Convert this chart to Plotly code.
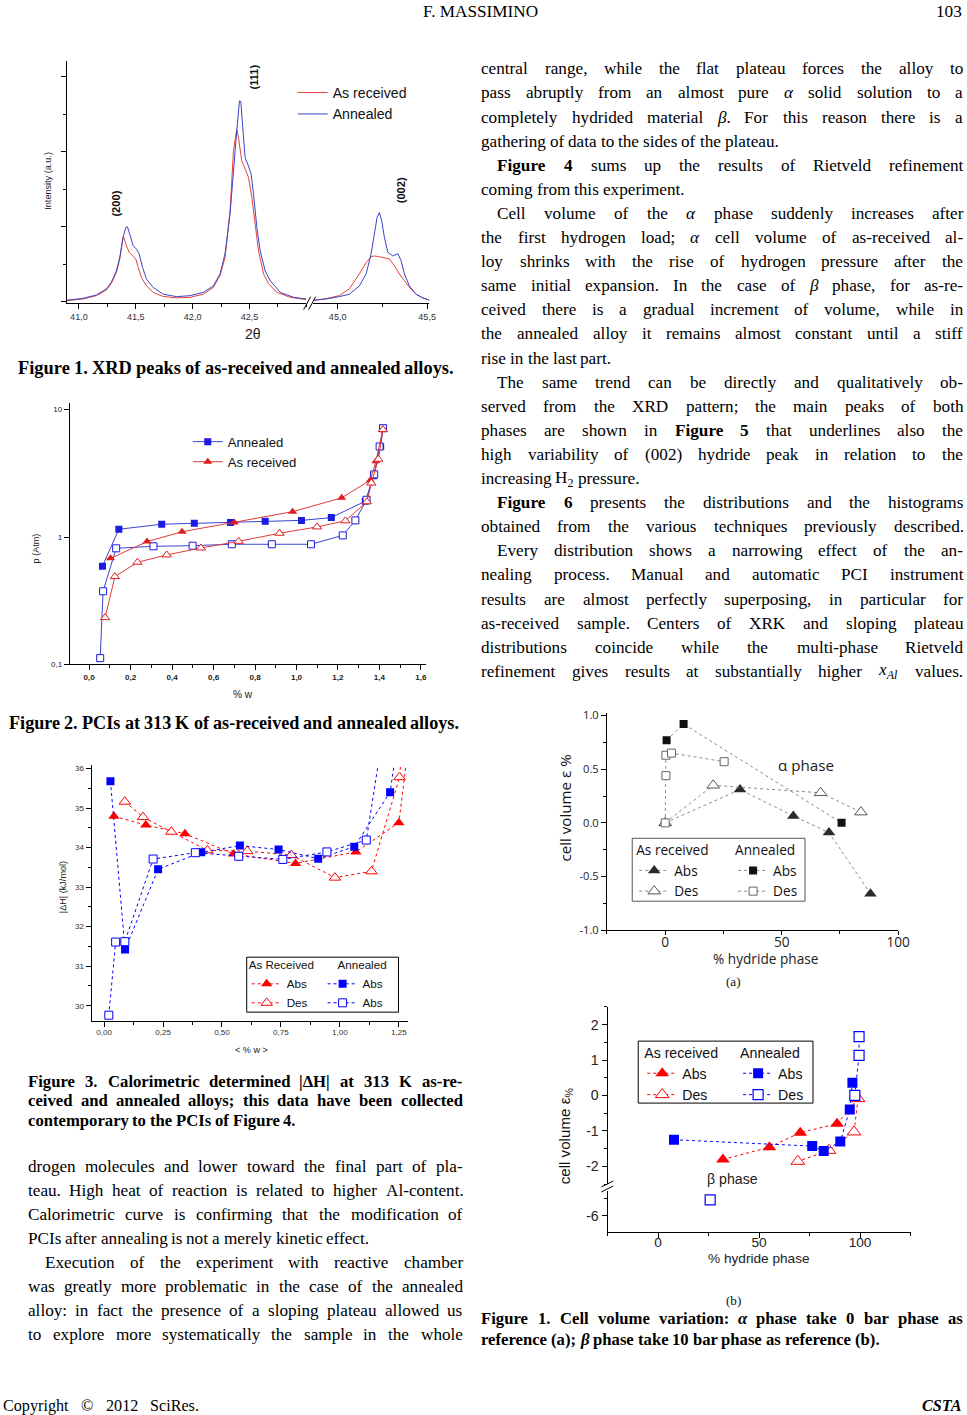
import re
import plotly.graph_objects as go

# Reference page geometry (pixels of the 967x1415 page)
W, H = 967, 1415
# The photographed window maps the page slightly compressed; lay the page out so the photo lands on target.
SX, SY, OY = 0.9890, 0.9916, 5.1
WF, HF = 982, 1422
FS = 1.0 / SX


def px(x): return (x / SX) / WF
def py(y): return 1 - ((y - OY) / SY) / HF


# ------------------------------------------------------------------ DATA
# Figure 1 : XRD peaks (2theta, intensity a.u.)
xrd_left_tt_ann = [40.894, 41.035, 41.153, 41.241, 41.285, 41.329, 41.359, 41.388, 41.412, 41.426, 41.447,
                   41.476, 41.506, 41.529, 41.559, 41.594, 41.653, 41.741, 41.859, 41.976, 42.094, 42.182,
                   42.241, 42.285, 42.329, 42.359, 42.388, 42.412, 42.424, 42.441, 42.462, 42.491, 42.515,
                   42.535, 42.565, 42.594, 42.638, 42.682, 42.771, 42.888, 43.0]
xrd_left_int_ann = [0.02, 0.044, 0.09, 0.17, 0.26, 0.41, 0.59, 0.86, 0.99, 1.0, 0.90,
                    0.75, 0.70, 0.64, 0.46, 0.30, 0.19, 0.10, 0.067, 0.08, 0.124, 0.21,
                    0.37, 0.64, 1.17, 1.79, 2.28, 2.68, 2.67, 2.32, 1.92, 1.81, 1.70,
                    1.44, 0.99, 0.68, 0.41, 0.28, 0.124, 0.058, 0.036]
xrd_left_tt_rec = [40.894, 41.035, 41.153, 41.241, 41.285, 41.329, 41.359, 41.382, 41.388, 41.394, 41.412,
                   41.441, 41.476, 41.5, 41.521, 41.55, 41.594, 41.653, 41.741, 41.859, 41.976, 42.094,
                   42.182, 42.241, 42.285, 42.329, 42.359, 42.382, 42.388, 42.403, 42.432, 42.462, 42.491,
                   42.521, 42.55, 42.579, 42.624, 42.668, 42.741, 42.859, 43.0]
xrd_left_int_rec = [0.013, 0.036, 0.08, 0.156, 0.244, 0.39, 0.57, 0.81, 0.86, 0.86, 0.77,
                    0.66, 0.61, 0.57, 0.46, 0.32, 0.21, 0.124, 0.07, 0.05, 0.058, 0.10,
                    0.19, 0.35, 0.59, 1.21, 2.01, 2.28, 2.30, 2.19, 1.88, 1.77, 1.66,
                    1.39, 0.99, 0.68, 0.37, 0.24, 0.124, 0.058, 0.027]
xrd_right_tt_ann = [44.869, 44.935, 45.009, 45.065, 45.121, 45.159, 45.187, 45.205, 45.22, 45.233, 45.246,
                    45.261, 45.28, 45.308, 45.336, 45.354, 45.373, 45.401, 45.438, 45.476, 45.513]
xrd_right_int_ann = [0.02, 0.036, 0.067, 0.10, 0.21, 0.37, 0.64, 0.90, 1.12, 1.19, 1.08,
                     0.86, 0.66, 0.61, 0.64, 0.55, 0.37, 0.21, 0.10, 0.05, 0.02]
xrd_right_tt_rec = [44.869, 44.935, 45.009, 45.065, 45.121, 45.159, 45.187, 45.205, 45.233, 45.261,
                    45.289, 45.317, 45.345, 45.373, 45.401, 45.438, 45.476, 45.513]
xrd_right_int_rec = [0.02, 0.04, 0.08, 0.17, 0.37, 0.52, 0.60, 0.61, 0.60, 0.59,
                     0.57, 0.48, 0.37, 0.28, 0.19, 0.10, 0.05, 0.02]
xrd_left_ticks = [41.0, 41.5, 42.0, 42.5]
xrd_left_ticktext = ["41,0", "41,5", "42,0", "42,5"]
xrd_right_ticks = [45.0, 45.5]
xrd_right_ticktext = ["45,0", "45,5"]

# Figure 2 : PCI (wt %, p Atm)
pci_ann_abs_w = [0.064, 0.143, 0.350, 0.507, 0.682, 0.849, 1.024, 1.168, 1.332, 1.372, 1.406, 1.417]
pci_ann_abs_p = [0.59, 1.15, 1.26, 1.28, 1.30, 1.33, 1.35, 1.42, 1.91, 3.02, 5.13, 7.14]
pci_ann_des_w = [0.053, 0.067, 0.130, 0.310, 0.499, 0.688, 0.881, 1.070, 1.223, 1.284, 1.338, 1.375, 1.401, 1.417]
pci_ann_des_p = [0.112, 0.375, 0.815, 0.845, 0.855, 0.877, 0.877, 0.877, 1.03, 1.35, 1.96, 3.10, 5.13, 7.14]
pci_rec_abs_w = [0.103, 0.279, 0.448, 0.700, 0.981, 1.218, 1.356, 1.383, 1.417]
pci_rec_abs_p = [0.68, 0.92, 1.10, 1.30, 1.58, 2.03, 2.79, 3.94, 6.97]
pci_rec_des_w = [0.077, 0.124, 0.233, 0.374, 0.539, 0.721, 0.918, 1.099, 1.236, 1.340, 1.361, 1.395, 1.417]
pci_rec_des_p = [0.233, 0.489, 0.634, 0.723, 0.820, 0.925, 1.07, 1.20, 1.34, 1.89, 2.65, 4.08, 6.97]
pci_xticks = [0.0, 0.2, 0.4, 0.6, 0.8, 1.0, 1.2, 1.4, 1.6]
pci_xticktext = ["0,0", "0,2", "0,4", "0,6", "0,8", "1,0", "1,2", "1,4", "1,6"]
pci_yticks = [0.1, 1, 10]
pci_yticktext = ["0,1", "1", "10"]

# Figure 3 : calorimetric |dH| (kJ/mol) vs <% w>
cal_ann_abs_w = [0.027, 0.089, 0.229, 0.412, 0.576, 0.740, 0.908, 1.061, 1.213, 1.252]
cal_ann_abs_h = [35.68, 31.42, 33.45, 33.88, 34.05, 33.95, 33.72, 34.02, 35.40, 37.0]
cal_ann_des_w = [0.020, 0.049, 0.088, 0.208, 0.387, 0.571, 0.758, 0.945, 1.112, 1.186]
cal_ann_des_h = [29.76, 31.61, 31.62, 33.71, 33.87, 33.78, 33.70, 33.89, 34.19, 37.0]
cal_rec_abs_w = [0.042, 0.177, 0.343, 0.549, 0.812, 1.068, 1.25, 1.31]
cal_rec_abs_h = [34.79, 34.57, 34.35, 33.84, 33.60, 33.89, 34.63, 37.5]
cal_rec_des_w = [0.088, 0.165, 0.285, 0.438, 0.607, 0.794, 0.979, 1.134, 1.253, 1.27]
cal_rec_des_h = [35.16, 34.77, 34.40, 33.93, 33.91, 33.81, 33.24, 33.40, 35.78, 37.0]
cal_xticks = [0.0, 0.25, 0.5, 0.75, 1.0, 1.25]
cal_xticktext = ["0,00", "0,25", "0,50", "0,75", "1,00", "1,25"]
cal_yticks = [30, 31, 32, 33, 34, 35, 36]

# Figure (a) : alpha phase cell volume (%) vs % hydride phase
alpha_rec_abs_x = [0, 32.1, 55.0, 70.3, 88.1]
alpha_rec_abs_y = [0.0, 0.31, 0.064, -0.09, -0.66]
alpha_rec_des_x = [0, 20.6, 66.7, 84.0]
alpha_rec_des_y = [0.0, 0.35, 0.28, 0.10]
alpha_ann_abs_x = [0.6, 7.9, 75.7]
alpha_ann_abs_y = [0.77, 0.92, 0.0]
alpha_ann_des_x = [0.0, 0.3, 0.3, 2.7, 25.3]
alpha_ann_des_y = [0.0, 0.44, 0.63, 0.65, 0.57]
alpha_yticks = [-1.0, -0.5, 0.0, 0.5, 1.0]
alpha_yticktext = ["-1.0", "-0.5", "0.0", "0.5", "1.0"]
hyd_xticks = [0, 50, 100]

# Figure (b) : beta phase cell volume (%) vs % hydride phase
beta_rec_abs_x = [32.1, 55.1, 70.4, 88.6, 99.0]
beta_rec_abs_y = [-1.81, -1.46, -1.05, -0.80, -0.09]
beta_rec_des_x = [99.0, 97.0, 84.6, 69.2]
beta_rec_des_y = [-0.09, -1.03, -1.55, -1.86]
beta_ann_abs_x = [7.9, 76.3, 82.0, 90.2, 94.9, 96.2]
beta_ann_abs_y = [-1.25, -1.43, -1.57, -1.30, -0.40, 0.36]
beta_ann_des_x = [97.4, 99.5, 99.5, 25.8]
beta_ann_des_y = [0.0, 1.13, 1.66, -5.55]
beta_upper_ticks = [-2, -1, 0, 1, 2]
beta_upper_ticktext = ["-2", "-1", "0", "1", "2"]
beta_lower_ticks = [-6]
beta_lower_ticktext = ["-6"]

# Page text
header_title = "F. MASSIMINO"
header_page = "103"
cap_fig1 = "Figure 1. XRD peaks of as-received and annealed alloys."
cap_fig2 = "Figure 2. PCIs at 313 K of as-received and annealed alloys."
cap_fig3 = [("Figure 3. Calorimetric determined |ΔH| at 313 K as-re-", True),
            ("ceived and annealed alloys; this data have been collected", True),
            ("contemporary to the PCIs of Figure 4.", False)]
cap_cell = [("Figure 1. Cell volume variation: <i>α</i> phase take 0 bar phase as", True),
            ("reference (a); <i>β</i> phase take 10 bar phase as reference (b).", False)]
left_body = [("drogen molecules and lower toward the final part of pla-", True, False),
             ("teau. High heat of reaction is related to higher Al-content.", True, False),
             ("Calorimetric curve is confirming that the modification of", True, False),
             ("PCIs after annealing is not a merely kinetic effect.", False, False),
             ("Execution of the experiment with reactive chamber", True, True),
             ("was greatly more problematic in the case of the annealed", True, False),
             ("alloy: in fact the presence of a sloping plateau allowed us", True, False),
             ("to explore more systematically the sample in the whole", True, False)]
right_body = [("central range, while the flat plateau forces the alloy to", True, False),
              ("pass abruptly from an almost pure <i>α</i> solid solution to a", True, False),
              ("completely hydrided material <i>β</i>. For this reason there is a", True, False),
              ("gathering of data to the sides of the plateau.", False, False),
              ("<b>Figure</b> <b>4</b> sums up the results of Rietveld refinement", True, True),
              ("coming from this experiment.", False, False),
              ("Cell volume of the <i>α</i> phase suddenly increases after", True, True),
              ("the first hydrogen load; <i>α</i> cell volume of as-received al-", True, False),
              ("loy shrinks with the rise of hydrogen pressure after the", True, False),
              ("same initial expansion. In the case of <i>β</i> phase, for as-re-", True, False),
              ("ceived there is a gradual increment of volume, while in", True, False),
              ("the annealed alloy it remains almost constant until a stiff", True, False),
              ("rise in the last part.", False, False),
              ("The same trend can be directly and qualitatively ob-", True, True),
              ("served from the XRD pattern; the main peaks of both", True, False),
              ("phases are shown in <b>Figure</b> <b>5</b> that underlines also the", True, False),
              ("high variability of (002) hydride peak in relation to the", True, False),
              ("increasing H<sub>2</sub> pressure.", False, False),
              ("<b>Figure</b> <b>6</b> presents the distributions and the histograms", True, True),
              ("obtained from the various techniques previously described.", True, False),
              ("Every distribution shows a narrowing effect of the an-", True, True),
              ("nealing process. Manual and automatic PCI instrument", True, False),
              ("results are almost perfectly superposing, in particular for", True, False),
              ("as-received sample. Centers of XRK and sloping plateau", True, False),
              ("distributions coincide while the multi-phase Rietveld", True, False),
              ("refinement gives results at substantially higher <i>x</i><sub><i>Al</i></sub> values.", True, False)]
footer_left = "Copyright © 2012 SciRes."
footer_right = "CSTA"

# ------------------------------------------------------------------ TEXT METRICS (Times)
TR = dict(zip("abcdefghijklmnopqrstuvwxyz",
              [444, 500, 444, 500, 444, 333, 500, 500, 278, 278, 500, 278, 778, 500, 500, 500, 500, 333, 389, 278, 500, 500, 722, 500, 500, 444]))
TR.update(zip("ABCDEFGHIJKLMNOPQRSTUVWXYZ",
              [722, 667, 667, 722, 611, 556, 722, 722, 333, 389, 722, 611, 889, 722, 722, 556, 722, 667, 556, 611, 722, 722, 944, 722, 722, 611]))
TR.update({c: 500 for c in "0123456789"})
TR.update({' ': 250, ',': 250, '.': 250, '-': 333, ':': 278, ';': 278, '(': 333, ')': 333, '|': 200,
           'α': 540, 'β': 500, 'Δ': 612, '©': 760, '%': 833})
TB = dict(zip("abcdefghijklmnopqrstuvwxyz",
              [500, 556, 444, 556, 444, 333, 500, 556, 278, 333, 556, 278, 833, 556, 500, 556, 556, 444, 389, 333, 556, 500, 722, 500, 500, 444]))
TB.update(zip("ABCDEFGHIJKLMNOPQRSTUVWXYZ",
              [722, 667, 722, 722, 667, 611, 778, 778, 389, 500, 778, 667, 944, 722, 778, 611, 778, 722, 556, 667, 722, 722, 1000, 722, 722, 667]))
TB.update({c: 500 for c in "0123456789"})
TB.update({' ': 250, ',': 250, '.': 250, '-': 333, ':': 333, ';': 333, '(': 333, ')': 333, '|': 220,
           'α': 540, 'β': 540, 'Δ': 612})


def tok_width(tok, bold_all=False):
    tbl = TB if (bold_all or '<b>' in tok) else TR
    w = 0.0
    for part in re.split(r'(<sub>.*?</sub>)', tok):
        scale = 0.7 if part.startswith('<sub>') else 1.0
        for ch in re.sub(r'<[^>]+>', '', part):
            w += tbl.get(ch, 500) * scale
    return w / 1000.0


annotations = []


def ann(text, x, y, size, family="Liberation Serif", xanchor="left", yanchor="middle",
        color="black", angle=0):
    annotations.append(dict(text=text, x=px(x), y=py(y), xref="paper", yref="paper",
                            xanchor=xanchor, yanchor=yanchor, showarrow=False, borderpad=0,
                            textangle=angle, font=dict(size=size * FS, family=family, color=color)))


def text_line(text, x0, x1, y, size, bold=False, justify=True, indent=0.0):
    words = text.split(' ')
    widths = [tok_width(w, bold) * size for w in words]
    start = x0 + indent
    if justify and len(words) > 1:
        gap = (x1 - start - sum(widths)) / (len(words) - 1)
    else:
        gap = 0.25 * size
    x = start
    for w, wd in zip(words, widths):
        ann("<b>%s</b>" % w if bold else w, x, y, size)
        x += wd + gap


def F(size, family, color="#222"):
    return dict(size=size * FS, family=family, color=color)


# ------------------------------------------------------------------ FIGURE
fig = go.Figure()
SANS = "Liberation Sans"
HUM = "Open Sans"

# ---- Figure 1
RED1, BLUE1 = "#e5423b", "#3b45c6"
fig.add_trace(go.Scatter(x=xrd_left_tt_rec, y=xrd_left_int_rec, mode="lines", name="As received",
                         line=dict(color=RED1, width=1), xaxis="x", yaxis="y", legend="legend", legendrank=1))
fig.add_trace(go.Scatter(x=xrd_left_tt_ann, y=xrd_left_int_ann, mode="lines", name="Annealed",
                         line=dict(color=BLUE1, width=1), xaxis="x", yaxis="y", legend="legend", legendrank=2))
fig.add_trace(go.Scatter(x=xrd_right_tt_rec, y=xrd_right_int_rec, mode="lines", showlegend=False,
                         line=dict(color=RED1, width=1), xaxis="x2", yaxis="y"))
fig.add_trace(go.Scatter(x=xrd_right_tt_ann, y=xrd_right_int_ann, mode="lines", showlegend=False,
                         line=dict(color=BLUE1, width=1), xaxis="x2", yaxis="y"))

# ---- Figure 2
B2, R2 = "#1a1ae0", "#e01c1c"
fig.add_trace(go.Scatter(x=pci_ann_abs_w, y=pci_ann_abs_p, mode="lines+markers", name="Annealed",
                         line=dict(color="#3a44d0", width=1),
                         marker=dict(symbol="square", size=7, color=B2),
                         xaxis="x3", yaxis="y3", legend="legend2", legendrank=1))
fig.add_trace(go.Scatter(x=pci_ann_des_w, y=pci_ann_des_p, mode="lines+markers", showlegend=False,
                         line=dict(color="#3a44d0", width=1),
                         marker=dict(symbol="square", size=7, color="white", line=dict(color=B2, width=1)),
                         xaxis="x3", yaxis="y3"))
fig.add_trace(go.Scatter(x=pci_rec_abs_w, y=pci_rec_abs_p, mode="lines+markers", name="As received",
                         line=dict(color="#e03a3a", width=1),
                         marker=dict(symbol="triangle-up", size=8, color=R2),
                         xaxis="x3", yaxis="y3", legend="legend2", legendrank=2))
fig.add_trace(go.Scatter(x=pci_rec_des_w, y=pci_rec_des_p, mode="lines+markers", showlegend=False,
                         line=dict(color="#e03a3a", width=1),
                         marker=dict(symbol="triangle-up", size=8, color="white", line=dict(color=R2, width=1)),
                         xaxis="x3", yaxis="y3"))

# ---- Figure 3
B3, R3 = "#0000ff", "#ff0000"
fig.add_trace(go.Scatter(x=cal_rec_abs_w, y=cal_rec_abs_h, mode="lines+markers", name="Abs",
                         line=dict(color=R3, width=1, dash="dot"),
                         marker=dict(symbol="triangle-up", size=10, color=R3),
                         xaxis="x4", yaxis="y4", legend="legend3", legendrank=1))
fig.add_trace(go.Scatter(x=cal_rec_des_w, y=cal_rec_des_h, mode="lines+markers", name="Des",
                         line=dict(color=R3, width=1, dash="dot"),
                         marker=dict(symbol="triangle-up", size=10, color="white", line=dict(color=R3, width=1)),
                         xaxis="x4", yaxis="y4", legend="legend3", legendrank=2))
fig.add_trace(go.Scatter(x=cal_ann_abs_w, y=cal_ann_abs_h, mode="lines+markers", name="Abs",
                         line=dict(color=B3, width=1, dash="dot"),
                         marker=dict(symbol="square", size=8, color=B3),
                         xaxis="x4", yaxis="y4", legend="legend4", legendrank=1))
fig.add_trace(go.Scatter(x=cal_ann_des_w, y=cal_ann_des_h, mode="lines+markers", name="Abs",
                         line=dict(color=B3, width=1, dash="dot"),
                         marker=dict(symbol="square", size=8, color="white", line=dict(color=B3, width=1)),
                         xaxis="x4", yaxis="y4", legend="legend4", legendrank=2))

# ---- Figure (a)
GL = "#8c8c8c"
fig.add_trace(go.Scatter(x=alpha_rec_abs_x, y=alpha_rec_abs_y, mode="lines+markers", name="Abs",
                         line=dict(color=GL, width=1, dash="dot"),
                         marker=dict(symbol="triangle-up", size=11, color="#2b2b2b"),
                         xaxis="x5", yaxis="y5", legend="legend5", legendrank=1))
fig.add_trace(go.Scatter(x=alpha_rec_des_x, y=alpha_rec_des_y, mode="lines+markers", name="Des",
                         line=dict(color=GL, width=1, dash="dot"),
                         marker=dict(symbol="triangle-up", size=11, color="white", line=dict(color="#555555", width=1)),
                         xaxis="x5", yaxis="y5", legend="legend5", legendrank=2))
fig.add_trace(go.Scatter(x=alpha_ann_abs_x, y=alpha_ann_abs_y, mode="lines+markers", name="Abs",
                         line=dict(color=GL, width=1, dash="dot"),
                         marker=dict(symbol="square", size=8, color="#111111"),
                         xaxis="x5", yaxis="y5", legend="legend6", legendrank=1))
fig.add_trace(go.Scatter(x=alpha_ann_des_x, y=alpha_ann_des_y, mode="lines+markers", name="Des",
                         line=dict(color=GL, width=1, dash="dot"),
                         marker=dict(symbol="square", size=8, color="white", line=dict(color="#666666", width=1)),
                         xaxis="x5", yaxis="y5", legend="legend6", legendrank=2))

# ---- Figure (b)
fig.add_trace(go.Scatter(x=beta_rec_abs_x, y=beta_rec_abs_y, mode="lines+markers", name="Abs",
                         line=dict(color=R3, width=1, dash="dot"),
                         marker=dict(symbol="triangle-up", size=12, color=R3),
                         xaxis="x6", yaxis="y6", legend="legend7", legendrank=1))
fig.add_trace(go.Scatter(x=beta_rec_des_x, y=beta_rec_des_y, mode="lines+markers", name="Des",
                         line=dict(color=R3, width=1, dash="dot"),
                         marker=dict(symbol="triangle-up", size=12, color="white", line=dict(color=R3, width=1)),
                         xaxis="x6", yaxis="y6", legend="legend7", legendrank=2))
fig.add_trace(go.Scatter(x=beta_ann_abs_x, y=beta_ann_abs_y, mode="lines+markers", name="Abs",
                         line=dict(color=B3, width=1, dash="dot"),
                         marker=dict(symbol="square", size=10, color=B3),
                         xaxis="x6", yaxis="y6", legend="legend8", legendrank=1))
up_x = [x for x, y in zip(beta_ann_des_x, beta_ann_des_y) if y > -3]
up_y = [y for y in beta_ann_des_y if y > -3]
lo_x = [x for x, y in zip(beta_ann_des_x, beta_ann_des_y) if y <= -3]
lo_y = [y for y in beta_ann_des_y if y <= -3]
fig.add_trace(go.Scatter(x=up_x, y=up_y, mode="lines+markers", name="Des",
                         line=dict(color=B3, width=1, dash="dot"),
                         marker=dict(symbol="square", size=10, color="white", line=dict(color=B3, width=1.2)),
                         xaxis="x6", yaxis="y6", legend="legend8", legendrank=2))
fig.add_trace(go.Scatter(x=lo_x, y=lo_y, mode="markers", showlegend=False,
                         marker=dict(symbol="square", size=10, color="white", line=dict(color=B3, width=1.2)),
                         xaxis="x6", yaxis="y7"))

# ------------------------------------------------------------------ AXES
def axis(**kw):
    d = dict(showline=True, linecolor="black", linewidth=1, ticks="outside", ticklen=5, tickwidth=1,
             tickcolor="black", showgrid=False, zeroline=False, fixedrange=True)
    d.update(kw)
    return d


def minor(dtick, tick0=0, ln=3):
    return dict(ticks="outside", ticklen=ln, tickwidth=1, tickcolor="black", dtick=dtick, tick0=tick0, showgrid=False)


layout_axes = dict(
    xaxis=axis(domain=[px(67), px(306.7)], range=[40.894, 43.0], anchor="y", tickmode="array",
               tickvals=xrd_left_ticks, ticktext=xrd_left_ticktext, tickfont=F(9, SANS, "#333"),
               minor=minor(0.25, 41)),
    xaxis2=axis(domain=[px(313), px(430)], range=[44.86, 45.513], anchor="y", tickmode="array",
                tickvals=xrd_right_ticks, ticktext=xrd_right_ticktext, tickfont=F(9, SANS, "#333"),
                minor=minor(0.25, 45)),
    yaxis=axis(domain=[py(302), py(60)], range=[-0.0133, 3.213], anchor="x", tickmode="array",
               tickvals=[0, 1, 2, 3], showticklabels=False, minor=minor(0.5, 0)),
    xaxis3=axis(domain=[px(70), px(427)], range=[-0.093, 1.627], anchor="y3", tickmode="array",
                tickvals=pci_xticks, ticktext=["<b>%s</b>" % t for t in pci_xticktext],
                tickfont=F(8, SANS), minor=minor(0.1, 0)),
    yaxis3=axis(domain=[py(664), py(402)], type="log", range=[-1, 1.055], anchor="x3", tickmode="array",
                tickvals=pci_yticks, ticktext=pci_yticktext, tickfont=F(8, SANS)),
    xaxis4=axis(domain=[px(91.7), px(408.3)], range=[-0.053, 1.288], anchor="y4", tickmode="array",
                tickvals=cal_xticks, ticktext=cal_xticktext, tickfont=F(8, SANS, "#333"),
                minor=minor(0.125, 0), ticklabelstandoff=-2),
    yaxis4=axis(domain=[py(1021), py(765)], range=[29.61, 36.08], anchor="x4", tickmode="array",
                tickvals=cal_yticks, ticktext=[str(v) for v in cal_yticks],
                tickfont=F(8, SANS, "#333"), minor=minor(0.5, 30)),
    xaxis5=axis(domain=[px(607.7), px(899.3)], range=[-25, 100], anchor="y5", tickmode="array",
                tickvals=hyd_xticks, ticktext=[str(v) for v in hyd_xticks], ticklen=4,
                tickfont=F(13.5, HUM), minor=minor(25, 0), ticklabelstandoff=-5),
    yaxis5=axis(domain=[py(930), py(713)], range=[-1.0, 1.02], anchor="x5", tickmode="array",
                tickvals=alpha_yticks, ticktext=alpha_yticktext,
                tickfont=F(11, HUM), minor=minor(0.25, 0)),
    xaxis6=axis(domain=[px(608.3), px(911.7)], range=[-25, 125], anchor="y7", tickmode="array",
                tickvals=hyd_xticks, ticktext=[str(v) for v in hyd_xticks],
                tickfont=F(13.5, SANS), minor=minor(25, 0), ticklabelstandoff=-7),
    yaxis6=axis(domain=[py(1184), py(1006.7)], range=[-2.5, 2.5], anchor="x6", tickmode="array",
                tickvals=beta_upper_ticks, ticktext=beta_upper_ticktext,
                tickfont=F(14, SANS), minor=minor(0.5, 0)),
    yaxis7=axis(domain=[py(1231.7), py(1191)], range=[-6.44, -5.30], anchor="x6", tickmode="array",
                tickvals=beta_lower_ticks, ticktext=beta_lower_ticktext,
                tickfont=F(14, SANS), minor=minor(0.5, -6)),
)


def legend_cfg(x, ytop, size, family, title=None, side="top"):
    d = dict(x=px(x), y=py(ytop), xanchor="left", yanchor="top", bgcolor="rgba(0,0,0,0)", borderwidth=0,
             font=F(size, family, "#111"), itemwidth=30, traceorder="normal",
             tracegroupgap=0, orientation="v")
    if title:
        d["title"] = dict(text=title, side=side, font=F(size, family, "#111"))
    return d


legends = dict(
    legend=legend_cfg(293, 76, 14, SANS),
    legend2=legend_cfg(188, 426, 13, SANS),
    legend3=legend_cfg(247, 954, 11.5, SANS, "As Received"),
    legend4=legend_cfg(323, 954, 11.5, SANS, "Annealed", "top right"),
    legend5=legend_cfg(635, 837, 13.5, HUM, "As received"),
    legend6=legend_cfg(734, 837, 13.5, HUM, "Annealed"),
    legend7=legend_cfg(643, 1039, 14, SANS, "As received"),
    legend8=legend_cfg(739, 1039, 14, SANS, "Annealed"),
)

# ------------------------------------------------------------------ SHAPES (frames, axis breaks)
def seg(x0, y0, x1, y1, color="black", width=1):
    return dict(type="line", xref="paper", yref="paper", x0=px(x0), y0=py(y0), x1=px(x1), y1=py(y1),
                line=dict(color=color, width=width))


def rect(x0, y0, x1, y1, color="black"):
    return dict(type="rect", xref="paper", yref="paper", x0=px(x0), y0=py(y0), x1=px(x1), y1=py(y1),
                line=dict(color=color, width=1), fillcolor="rgba(0,0,0,0)")


shapes = [
    seg(304, 309, 311, 296), seg(309, 309, 316, 296),
    seg(602, 1187, 614, 1181), seg(602, 1192, 614, 1186),
    rect(247, 957, 399, 1012),
    rect(633, 838, 806, 901, "#555555"),
    rect(639, 1041, 814, 1103),
]

# ------------------------------------------------------------------ CHART LABELS
ann("Intensity (a.u.)", 48, 180, 9, SANS, "center", "middle", "#222", -90)
ann("<b>(111)</b>", 254, 76, 11, SANS, "center", "middle", "#111", -90)
ann("<b>(200)</b>", 116, 203, 11, SANS, "center", "middle", "#111", -90)
ann("<b>(002)</b>", 401, 190, 11, SANS, "center", "middle", "#111", -90)
ann("2θ", 253, 333, 14, SANS, "center", "middle", "#222")

ann("p (Atm)", 37, 548, 9, SANS, "center", "middle", "#222", -90)
ann("% w", 243, 694, 10, SANS, "center", "middle", "#222")

ann("|ΔH| (kJ/mol)", 63, 887, 9, SANS, "center", "middle", "#222", -90)
ann("&lt; % w &gt;", 252, 1050, 9, SANS, "center", "middle", "#222")

ann("cell volume ε %", 566, 808, 15, HUM, "center", "middle", "#111", -90)
ann("% hydride phase", 766, 958, 13.5, HUM, "center", "middle", "#222")
ann("α phase", 807, 765, 15, HUM, "center", "middle", "#222")
ann("(a)", 734, 981, 13, "Liberation Serif", "center", "middle", "#111")

ann("cell volume ε<sub>%</sub>", 566, 1136, 15, SANS, "center", "middle", "#111", -90)
ann("% hydride phase", 760, 1259, 13.5, SANS, "center", "middle", "#222")
ann("β phase", 733, 1179, 14, SANS, "center", "middle", "#222")
ann("(b)", 734, 1301, 13, "Liberation Serif", "center", "middle", "#111")

# ------------------------------------------------------------------ PAGE TEXT
ann(header_title, 481, 11, 17, "Liberation Serif", "center", "middle")
ann(header_page, 964, 11, 17, "Liberation Serif", "right", "middle")


def fit_caption(text, x0, x1, y):
    n = len(text.split(' '))
    em = sum(tok_width(w, True) for w in text.split(' ')) + 0.25 * (n - 1)
    size = (x1 - x0) / em
    text_line(text, x0, x1, y, size, bold=True, justify=True)


fit_caption(cap_fig1, 17, 453, 367)
fit_caption(cap_fig2, 8, 458, 723)
for i, (t, j) in enumerate(cap_fig3):
    text_line(t, 27, 462, 1081 + i * 19.6, 16.5, bold=True, justify=j)
for i, (t, j) in enumerate(cap_cell):
    text_line(t, 481, 963, 1319 + i * 20.5, 16.5, bold=True, justify=j)
for i, (t, j, ind) in enumerate(left_body):
    text_line(t, 27, 462, 1166 + i * 24.1, 17, justify=j, indent=17 if ind else 0)
for i, (t, j, ind) in enumerate(right_body):
    text_line(t, 481, 963, 68 + i * 24.12, 17, justify=j, indent=16 if ind else 0)

text_line(footer_left, 2, 198, 1406, 16, justify=True)
ann("<b><i>%s</i></b>" % footer_right, 964, 1406, 16, "Liberation Serif", "right", "middle")

fig.update_layout(
    width=WF, height=HF, autosize=False, margin=dict(l=0, r=0, t=0, b=0, pad=0),
    paper_bgcolor="white", plot_bgcolor="white", showlegend=True,
    font=dict(family=SANS, color="#111"),
    annotations=annotations, shapes=shapes, hovermode=False,
    **layout_axes, **legends,
)

page_css = "document.body.style.margin='0px';document.body.style.padding='0px';"
fig.write_html("out.html", include_plotlyjs=True,
               config={"displayModeBar": False, "staticPlot": True}, post_script=page_css)
